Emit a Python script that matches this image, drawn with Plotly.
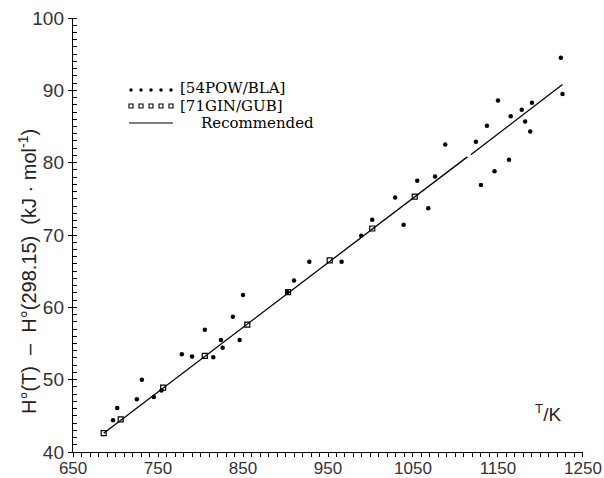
import plotly.graph_objects as go

# Enthalpy increment data, H°(T) - H°(298.15) in kJ/mol
pow_T = [697, 702, 725, 731, 745, 754, 778, 790, 805, 815, 824, 826, 838, 846, 850,
         902, 910, 928, 966, 989, 1002, 1029, 1039, 1055, 1068, 1076, 1088, 1124,
         1130, 1137, 1146, 1150, 1163, 1165, 1178, 1182, 1188, 1190, 1224, 1226]
pow_H = [44.4, 46.1, 47.3, 50.0, 47.6, 48.5, 53.5, 53.2, 56.9, 53.1, 55.5, 54.4, 58.7,
         55.5, 61.7, 62.1, 63.7, 66.3, 66.3, 69.9, 72.1, 75.2, 71.4, 77.5, 73.7, 78.1,
         82.5, 82.9, 76.9, 85.1, 78.8, 88.6, 80.4, 86.4, 87.3, 85.7, 84.3, 88.3, 94.5, 89.5]

gin_T = [686, 706, 756, 805, 855, 903, 952, 1002, 1052]
gin_H = [42.6, 44.5, 48.9, 53.3, 57.6, 62.1, 66.5, 70.9, 75.3]

rec_T = [686, 1114, None, 1118, 1226]
rec_H = [42.6, 80.8, None, 81.1, 90.8]

x_ticks = [650, 750, 850, 950, 1050, 1150, 1250]
y_ticks = [40, 50, 60, 70, 80, 90, 100]

legend_labels = ["[54POW/BLA]", "[71GIN/GUB]", "Recommended"]

# plot-area geometry in pixels
W, H = 604, 478
L, R, T, B = 73, 583, 18, 452


def fx(px):
    return (px - L) / (R - L)


def fy(py):
    return (B - py) / (B - T)


fig = go.Figure()

fig.add_trace(go.Scatter(x=rec_T, y=rec_H, mode="lines",
                         line=dict(color="black", width=1.3), connectgaps=False,
                         showlegend=False))
fig.add_trace(go.Scatter(x=pow_T, y=pow_H, mode="markers",
                         marker=dict(symbol="circle", size=4.5, color="black"),
                         showlegend=False))
fig.add_trace(go.Scatter(x=gin_T, y=gin_H, mode="markers",
                         marker=dict(symbol="square-open", size=5, color="black",
                                     line=dict(width=1.2)),
                         showlegend=False))

# hand-drawn style key on an overlay axis spanning the plot area
key_x = [fx(p) for p in (131, 141, 151, 161, 171)]
fig.add_trace(go.Scatter(x=key_x, y=[fy(90)] * 5, xaxis="x2", yaxis="y2", mode="markers",
                         marker=dict(symbol="circle", size=3.5, color="black"),
                         showlegend=False))
fig.add_trace(go.Scatter(x=key_x, y=[fy(106)] * 5, xaxis="x2", yaxis="y2", mode="markers",
                         marker=dict(symbol="square-open", size=4, color="black",
                                     line=dict(width=1.1)),
                         showlegend=False))
fig.add_trace(go.Scatter(x=[fx(129), fx(173)], y=[fy(123)] * 2, xaxis="x2", yaxis="y2",
                         mode="lines", line=dict(color="black", width=1.2),
                         showlegend=False))

serif = "DejaVu Serif"
sans = "Liberation Sans, Arial, sans-serif"

ann = []
for lab, px, py in zip(legend_labels, (178, 178, 199), (88, 106, 123)):
    ann.append(dict(text=lab, xref="paper", yref="paper", x=fx(px), y=fy(py),
                    xanchor="left", yanchor="middle", showarrow=False,
                    font=dict(family=serif, size=15, color="black")))

ann.append(dict(text="H°(T)\u00a0\u00a0\u2013\u00a0\u00a0H°(298.15)\u00a0\u00a0(kJ\u00a0·\u00a0mol<sup>-1</sup>)",
                xref="paper", yref="paper", x=fx(27), y=fy(272), textangle=-90,
                xanchor="center", yanchor="middle", showarrow=False,
                font=dict(family=sans, size=20, color="#222")))
ann.append(dict(text="<sup>T</sup>/K", xref="paper", yref="paper", x=fx(548), y=fy(413),
                xanchor="center", yanchor="middle", showarrow=False,
                font=dict(family=sans, size=19, color="#222")))

fig.update_layout(
    width=W, height=H,
    margin=dict(l=L, r=W - R, t=T, b=H - B, autoexpand=False),
    paper_bgcolor="white", plot_bgcolor="white",
    showlegend=False,
    annotations=ann,
    xaxis=dict(range=[649.9, 1250.1], tickvals=x_ticks, ticktext=[str(v) for v in x_ticks],
               showgrid=False, zeroline=False, showline=True, linecolor="black", linewidth=1.4,
               ticks="outside", ticklen=0, tickcolor="black", tickwidth=1.2,
               ticklabeloverflow="allow", automargin=False,
               minor=dict(ticks="outside", dtick=10, ticklen=4, tickcolor="black", tickwidth=1.1),
               tickfont=dict(family=sans, size=17, color="#333")),
    yaxis=dict(range=[40, 100], tickvals=y_ticks, ticktext=[str(v) for v in y_ticks],
               showgrid=False, zeroline=False, showline=True, linecolor="black", linewidth=1.4,
               ticks="outside", ticklen=4, tickcolor="black", tickwidth=1.2,
               ticklabeloverflow="allow", automargin=False,
               minor=dict(ticks="inside", dtick=1, ticklen=4, tickcolor="black", tickwidth=1),
               tickfont=dict(family=sans, size=19, color="#333")),
    xaxis2=dict(range=[0, 1], overlaying="x", visible=False, fixedrange=True),
    yaxis2=dict(range=[0, 1], overlaying="y", visible=False, fixedrange=True),
)

fig.write_html("out.html")
